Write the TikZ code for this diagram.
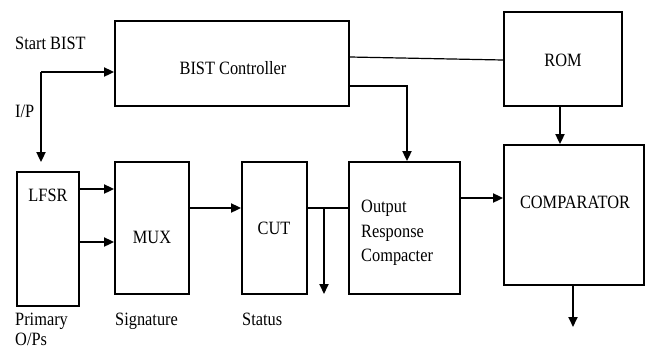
\documentclass[tikz,border=0pt]{standalone}
\usepackage{fontspec}
\setmainfont{Liberation Serif}[FakeStretch=0.87]
\usetikzlibrary{arrows.meta}
\begin{document}
\begin{tikzpicture}[x=1pt,y=-1pt,
  box/.style={draw, line width=1.8pt, inner sep=0pt},
  lbl/.style={inner sep=0pt, anchor=base, font=\fontsize{18.8}{24.5}\selectfont},
  lblw/.style={lbl, anchor=base west},
  wire/.style={line width=1.8pt},
  arr/.style={wire, -{Triangle[length=10pt,width=9pt]}},
  thinwire/.style={line width=1.2pt}]
\useasboundingbox (0,0) rectangle (646,349);
\clip (0,0) rectangle (646,349);

% blocks
\node[box, minimum width=234pt, minimum height=85pt]  (ctrl) at (232,63.5) {};
\node[box, minimum width=118pt, minimum height=94pt]  (rom)  at (563,59) {};
\node[box, minimum width=62pt,  minimum height=134pt] (lfsr) at (48,239) {};
\node[box, minimum width=74pt,  minimum height=132pt] (mux)  at (152,228) {};
\node[box, minimum width=65pt,  minimum height=132pt] (cut)  at (274.5,228) {};
\node[box, minimum width=111pt, minimum height=132pt] (orc)  at (404.5,228) {};
\node[box, minimum width=140pt, minimum height=140pt] (comp) at (574,215) {};

% block labels
\node[lbl] (tctrl) at (233,74) {BIST Controller};
\node[lbl] (trom)  at (563,66) {ROM};
\node[lbl] (tlfsr) at (48,201) {LFSR};
\node[lbl] (tmux)  at (152,243) {MUX};
\node[lbl] (tcut)  at (274,234) {CUT};
\node[lblw] (torc1) at (361,212) {Output};
\node[lblw] (torc2) at (361,237) {Response};
\node[lblw] (torc3) at (361,261) {Compacter};
\node[lbl] (tcomp) at (575,208) {COMPARATOR};

% side labels
\node[lblw] (tstart) at (15,49) {Start BIST};
\node[lblw] (tip)    at (15,117) {I/P};
\node[lblw] (tprim)  at (15,325) {Primary};
\node[lblw] (tops)   at (15,345) {O/Ps};
\node[lblw] (tsig)   at (115,325) {Signature};
\node[lblw] (tstat)  at (242,325) {Status};

% connectors
\coordinate (start) at (41,72);
\draw[arr] (start) -- (start -| ctrl.west);
\draw[arr, shorten >=9pt] (start) -- (start |- lfsr.north);

\draw[thinwire] ([yshift=6.5pt]ctrl.east) -- ([yshift=-1pt]rom.west);
\draw[arr] ([yshift=-22.5pt]ctrl.east) -| ([xshift=2.5pt]orc.north);
\draw[arr] ([xshift=-3pt]rom.south) -- ([xshift=-3pt]rom.south |- comp.north);

\draw[arr] ([yshift=50pt]lfsr.east) -- ([yshift=50pt]lfsr.east -| mux.west);
\draw[arr] ([yshift=-3pt]lfsr.east) -- ([yshift=-3pt]lfsr.east -| mux.west);
\draw[arr] ([yshift=20pt]mux.east) -- ([yshift=20pt]mux.east -| cut.west);
\draw[wire] ([yshift=20pt]cut.east) -- ([yshift=20pt]cut.east -| orc.west);

\coordinate (branch) at (324,208);
\coordinate (statusout) at (324,294);
\draw[arr] (branch) -- (statusout);

\draw[arr] ([yshift=30pt]orc.east) -- ([yshift=30pt]orc.east -| comp.west);
\coordinate (cmpout) at (573,327);
\draw[arr] (comp.south -| cmpout) -- (cmpout);
\end{tikzpicture}
\end{document}
